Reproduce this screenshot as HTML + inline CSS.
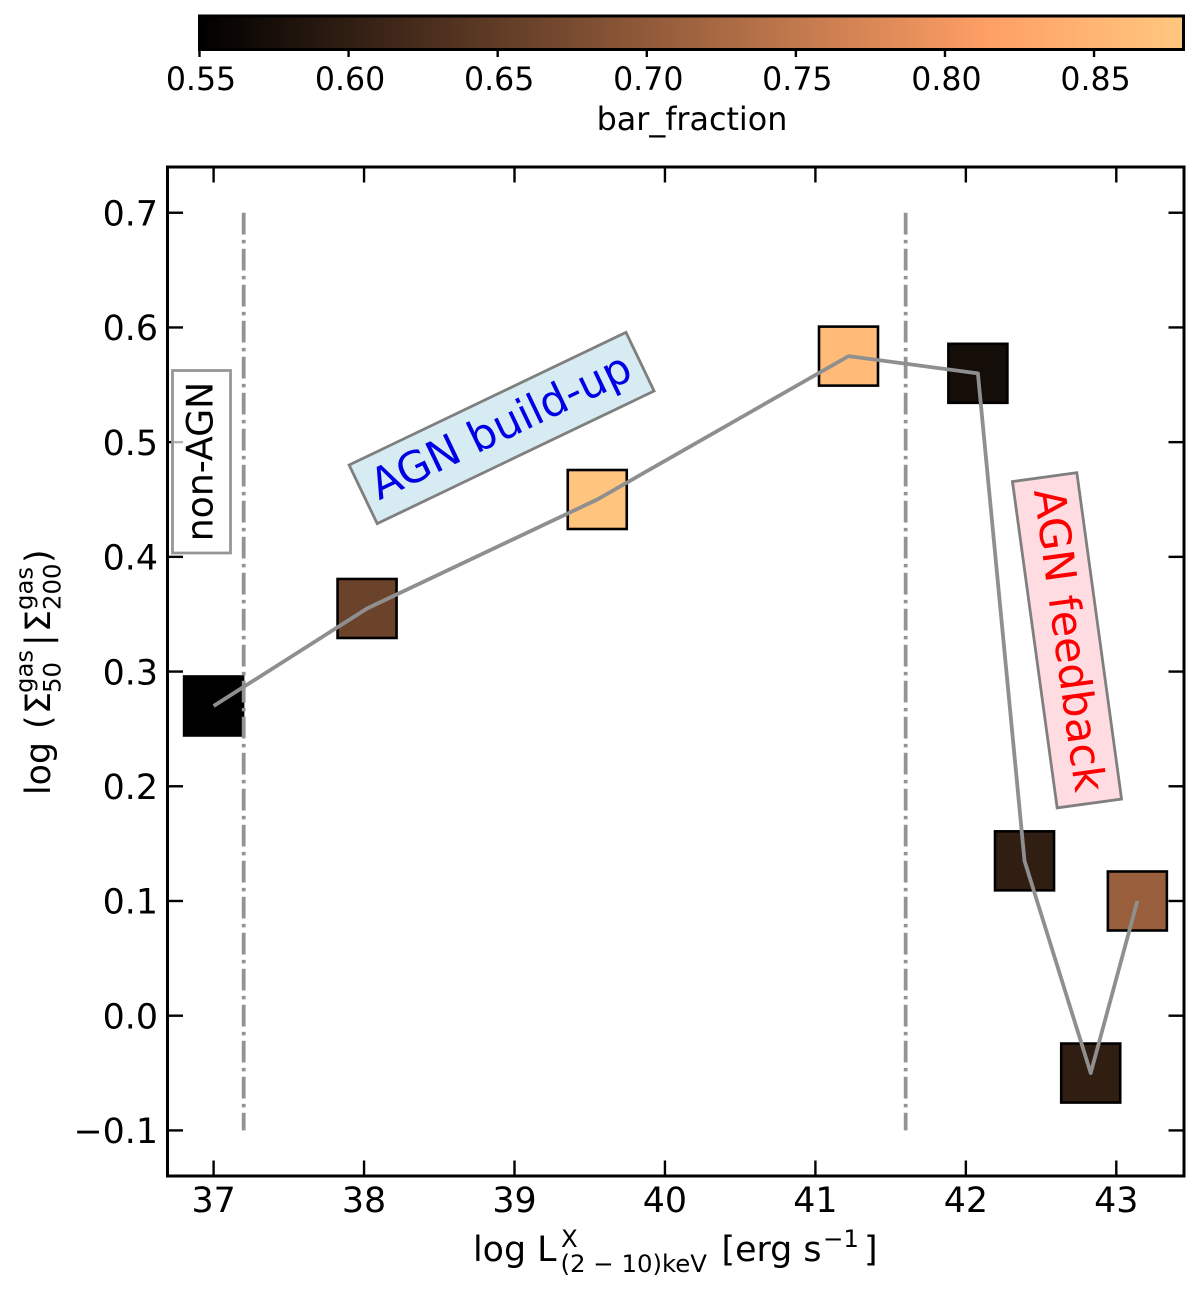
<!DOCTYPE html>
<html lang="en">
<head>
<meta charset="utf-8">
<title>Bar fraction vs AGN luminosity</title>
<style>
html,body{margin:0;padding:0;background:#fff;width:1200px;height:1293px;overflow:hidden}
svg{display:block}
text{font-family:"DejaVu Sans","Liberation Sans",sans-serif;fill:#000}
</style>
</head>
<body>
<svg id="chart" width="1200" height="1293" viewBox="0 0 1200 1293" xmlns="http://www.w3.org/2000/svg">
  <defs>
    <linearGradient id="copper-gradient" x1="0" x2="1" y1="0" y2="0"></linearGradient>
  </defs>
  <rect x="0" y="0" width="1200" height="1293" fill="#fff"/>

  <g id="colorbar">
    <rect x="199.5" y="16" width="984" height="33.5" fill="url(#copper-gradient)" stroke="#000" stroke-width="3"/>
  </g>
  <text x="692" y="130" font-size="31.8" text-anchor="middle">bar_fraction</text>

  <g id="axes"></g>
  <g id="marks"></g>

  <g>
    <rect x="172.5" y="370.5" width="58" height="182.5" fill="#fff" fill-opacity="0.7" stroke="#969696" stroke-width="2.8"/>
    <text transform="translate(212.5,461.5) rotate(-90)" font-size="36.2" text-anchor="middle">non-AGN</text>
  </g>
  <g transform="translate(501.6,428) rotate(-25.6)">
    <rect x="-153.5" y="-32.5" width="307" height="65" fill="#d7ebf2" stroke="#7f7f7f" stroke-width="2.8"/>
    <text x="0" y="12.5" font-size="43" text-anchor="middle" style="fill:#0000e6">AGN build-up</text>
  </g>
  <g transform="translate(1067,640.3) rotate(82.2)">
    <rect x="-164.7" y="-32.5" width="329.4" height="65" fill="#ffdbe2" stroke="#7f7f7f" stroke-width="2.8"/>
    <text x="0" y="12.5" font-size="43" text-anchor="middle" style="fill:#ff0000">AGN feedback</text>
  </g>

  <rect x="167.5" y="167" width="1016.5" height="1009" fill="none" stroke="#000" stroke-width="3"/>

  <g>
    <text x="473" y="1261" font-size="34.8">log L</text>
    <text x="561" y="1247" font-size="24.4">X</text>
    <text x="560.5" y="1272" font-size="24.4">(2 − 10)keV</text>
    <text x="721.5" y="1261" font-size="34.8">[erg s</text>
    <text x="823" y="1247" font-size="24.4">−1</text>
    <text x="864" y="1261" font-size="34.8">]</text>
  </g>

  <g transform="translate(50,795) rotate(-90)">
    <text x="0" y="0" font-size="34.8">log</text>
    <text x="66" y="0" font-size="34.8">(</text>
    <text x="81" y="0" font-size="34.8">Σ</text>
    <text x="102" y="-17.5" font-size="24.4">gas</text>
    <text x="102" y="10.5" font-size="24.4">50</text>
    <text x="149" y="0" font-size="34.8">|</text>
    <text x="163" y="0" font-size="34.8">Σ</text>
    <text x="185" y="-17.5" font-size="24.4">gas</text>
    <text x="185" y="10.5" font-size="24.4">200</text>
    <text x="232" y="0" font-size="34.8">)</text>
  </g>
</svg>

<script>
// Chart data
const xCategories = [37.0, 38.02, 39.55, 41.22, 42.08, 42.39, 42.83, 43.14];
const gasRatio = [0.27, 0.355, 0.45, 0.575, 0.56, 0.135, -0.05, 0.10];
const barFraction = [0.55, 0.661, 0.875, 0.86, 0.572, 0.60, 0.60, 0.708];
const xTicks = [37, 38, 39, 40, 41, 42, 43];
const yTicks = [-0.1, 0.0, 0.1, 0.2, 0.3, 0.4, 0.5, 0.6, 0.7];
const yTickLabels = ['−0.1', '0.0', '0.1', '0.2', '0.3', '0.4', '0.5', '0.6', '0.7'];
const colorTicks = [0.55, 0.60, 0.65, 0.70, 0.75, 0.80, 0.85];
const colorTickLabels = ['0.55', '0.60', '0.65', '0.70', '0.75', '0.80', '0.85'];
const colorRange = [0.55, 0.88];
const regionBoundaries = [37.2, 41.6];
const regionSpan = [-0.1, 0.7];

const NS = 'http://www.w3.org/2000/svg';
function xScale(v) { return 213.6 + (v - 37) * 150.45; }
function yScale(v) { return 1015.7 - v * 1147.1; }
function cScale(v) { return 199.5 + (v - colorRange[0]) / (colorRange[1] - colorRange[0]) * 984; }
function copper(t) {
  const x = Math.max(0, Math.min(1, t));
  const r = Math.min(1, 1.25 * x) * 255, g = 0.7812 * x * 255, b = 0.4975 * x * 255;
  return 'rgb(' + Math.round(r) + ',' + Math.round(g) + ',' + Math.round(b) + ')';
}
function colorOf(v) { return copper((v - colorRange[0]) / (colorRange[1] - colorRange[0])); }
function make(tag, parent, attrs) {
  const el = document.createElementNS(NS, tag);
  for (const k in attrs) el.setAttribute(k, attrs[k]);
  parent.appendChild(el);
  return el;
}

// Colorbar gradient
const grad = document.getElementById('copper-gradient');
[0, 0.8, 1].forEach(function (s) {
  const stop = make('stop', grad, { offset: s, 'stop-color': copper(s) });
  
  
});

// Colorbar ticks
const colorbar = document.getElementById('colorbar');
colorTicks.forEach(function (v, i) {
  const px = cScale(v);
  const tick = make('line', colorbar, { x1: px, x2: px, y1: 49.5, y2: 57, stroke: '#000', 'stroke-width': 2.4 });
  
  
  const label = make('text', colorbar, { x: px + 1.5, y: 90, 'font-size': 31.6, 'text-anchor': 'middle' });
  label.textContent = colorTickLabels[i];
  
  
});

// Marks
const marks = document.getElementById('marks');
xCategories.forEach(function (xv, i) {
  const side = 59;
  const sq = make('rect', marks, {
    x: xScale(xv) - side / 2, y: yScale(gasRatio[i]) - side / 2, width: side, height: side,
    fill: colorOf(barFraction[i]), stroke: '#000', 'stroke-width': 2.6
  });
  
  
});
regionBoundaries.forEach(function (xv) {
  const px = xScale(xv);
  const ln = make('line', marks, {
    x1: px, x2: px, y1: yScale(regionSpan[1]), y2: yScale(regionSpan[0]),
    stroke: '#939393', 'stroke-width': 3.8, 'stroke-dasharray': '21.8 5.4 3.4 5.4'
  });
  
  
});
const trendPoints = xCategories.map(function (xv, i) { return xScale(xv) + ',' + yScale(gasRatio[i]); }).join(' ');
const trend = make('polyline', marks, { points: trendPoints, fill: 'none', stroke: '#8f8f8f', 'stroke-width': 3.8, 'stroke-linejoin': 'round' });



// Axes
const axes = document.getElementById('axes');
xTicks.forEach(function (v) {
  const px = xScale(v);
  const bottomTick = make('line', axes, { x1: px, x2: px, y1: 1176, y2: 1160.5, stroke: '#000', 'stroke-width': 2.4 });
  
  
  const topTick = make('line', axes, { x1: px, x2: px, y1: 167, y2: 182.5, stroke: '#000', 'stroke-width': 2.4 });
  
  
  const label = make('text', axes, { x: px, y: 1212, 'font-size': 34.8, 'text-anchor': 'middle' });
  label.textContent = String(v);
  
  
});
yTicks.forEach(function (v, i) {
  const py = yScale(v);
  const leftTick = make('line', axes, { x1: 167.5, x2: 183, y1: py, y2: py, stroke: '#000', 'stroke-width': 2.4 });
  
  
  const rightTick = make('line', axes, { x1: 1184, x2: 1168.5, y1: py, y2: py, stroke: '#000', 'stroke-width': 2.4 });
  
  
  const label = make('text', axes, { x: 158, y: py + 12.7, 'font-size': 34.8, 'text-anchor': 'end' });
  label.textContent = yTickLabels[i];
  
  
});
</script>
</body>
</html>
